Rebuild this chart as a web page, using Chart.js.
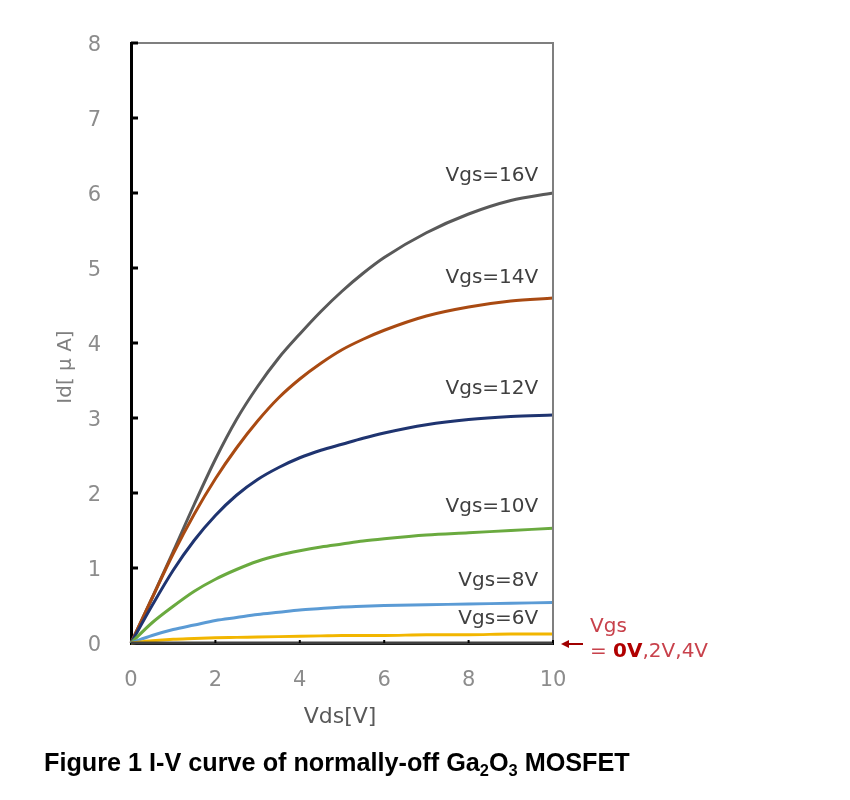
<!DOCTYPE html>
<html>
<head>
<meta charset="utf-8">
<script src="https://cdn.jsdelivr.net/npm/chart.js@4.4.0/dist/chart.umd.min.js"></script>
<style>
html, body { margin: 0; padding: 0; background: #fff; }
#wrap { width: 850px; height: 800px; }
</style>
</head>
<body>
<div id="wrap"><canvas id="canvas"></canvas></div>
<script>
// drain voltage points (V)
var vds = [0, 0.5, 1, 1.5, 2, 2.5, 3, 3.5, 4, 4.5, 5, 5.5, 6, 7, 8, 9, 10];
// drain current (uA)
var id16 = [0, 0.6, 1.22, 1.85, 2.45, 2.98, 3.42, 3.8, 4.12, 4.42, 4.69, 4.93, 5.14, 5.47, 5.72, 5.9, 6.0];
var id14 = [0, 0.6, 1.19, 1.72, 2.19, 2.6, 2.96, 3.27, 3.52, 3.73, 3.91, 4.05, 4.17, 4.36, 4.48, 4.56, 4.6];
var id12 = [0, 0.5, 0.97, 1.37, 1.7, 1.97, 2.18, 2.34, 2.47, 2.57, 2.65, 2.73, 2.8, 2.91, 2.98, 3.02, 3.04];
var id10 = [0, 0.27, 0.49, 0.69, 0.85, 0.98, 1.09, 1.17, 1.23, 1.28, 1.32, 1.36, 1.39, 1.44, 1.47, 1.5, 1.53];
var id8 = [0, 0.1, 0.18, 0.24, 0.3, 0.34, 0.38, 0.41, 0.44, 0.46, 0.48, 0.49, 0.5, 0.51, 0.52, 0.53, 0.54];
var id6 = [0, 0.03, 0.05, 0.06, 0.07, 0.075, 0.08, 0.085, 0.09, 0.095, 0.1, 0.1, 0.1, 0.11, 0.11, 0.12, 0.12];
var id0 = [0, 0, 0, 0, 0, 0, 0, 0, 0, 0, 0, 0, 0, 0, 0, 0, 0];

var seriesNames = ['Vgs=16V', 'Vgs=14V', 'Vgs=12V', 'Vgs=10V', 'Vgs=8V', 'Vgs=6V', 'Vgs=0V,2V,4V'];
var seriesValues = [id16, id14, id12, id10, id8, id6, id0];
var seriesColors = ['#595959', '#A94A12', '#1F3470', '#6AAA3F', '#5B9BD5', '#F2B600', '#404040'];

var xTicks = [0, 2, 4, 6, 8, 10];
var yTicks = [0, 1, 2, 3, 4, 5, 6, 7, 8];

// where each curve label sits (value coords, right aligned)
var labelAt = [[9.65, 6.23], [9.65, 4.87], [9.65, 3.39], [9.65, 1.81], [9.65, 0.83], [9.65, 0.32]];

function points(vals) {
	var out = [];
	for (var i = 0; i < vds.length; i++) {
		out.push({ x: vds[i], y: vals[i] });
	}
	return out;
}

var datasets = [];
for (var k = seriesValues.length - 1; k >= 0; k--) {
	datasets.push({
		label: seriesNames[k],
		data: points(seriesValues[k]),
		borderColor: seriesColors[k],
		borderWidth: 3,
		pointRadius: 0,
		cubicInterpolationMode: 'monotone',
		clip: false
	});
}

var FONT = "'DejaVu Sans', sans-serif";

var overlay = {
	id: 'overlay',
	afterDraw: function (chart) {
		var ctx = chart.ctx;
		var a = chart.chartArea;
		var xs = chart.scales.x;
		var ys = chart.scales.y;
		ctx.save();

		// thin frame on top and right
		ctx.strokeStyle = '#7f7f7f';
		ctx.lineWidth = 2;
		ctx.beginPath();
		ctx.moveTo(a.left, a.top);
		ctx.lineTo(a.right, a.top);
		ctx.lineTo(a.right, a.bottom);
		ctx.stroke();

		// inward tick marks
		ctx.strokeStyle = '#000';
		ctx.lineWidth = 3;
		yTicks.forEach(function (v) {
			if (v === 0) return;
			var py = ys.getPixelForValue(v);
			ctx.beginPath();
			ctx.moveTo(a.left, py);
			ctx.lineTo(a.left + 7, py);
			ctx.stroke();
		});
		ctx.lineWidth = 2;
		xTicks.forEach(function (v) {
			if (v === 0) return;
			var px = xs.getPixelForValue(v);
			ctx.beginPath();
			ctx.moveTo(px, a.bottom);
			ctx.lineTo(px, a.bottom - 3);
			ctx.stroke();
		});

		// curve labels
		ctx.font = '20px ' + FONT;
		ctx.fillStyle = '#404040';
		ctx.textAlign = 'right';
		ctx.textBaseline = 'middle';
		for (var i = 0; i < labelAt.length; i++) {
			ctx.fillText(seriesNames[i], xs.getPixelForValue(labelAt[i][0]), ys.getPixelForValue(labelAt[i][1]));
		}

		// axis titles
		ctx.textAlign = 'center';
		ctx.font = '22px ' + FONT;
		ctx.fillStyle = '#595959';
		ctx.fillText('Vds[V]', (a.left + a.right) / 2 - 2, 717);
		ctx.save();
		ctx.translate(66, 367);
		ctx.rotate(-Math.PI / 2);
		ctx.font = '20px ' + FONT;
		ctx.fillStyle = '#7f7f7f';
		ctx.fillText('Id[ μ A]', 0, 0);
		ctx.restore();

		// red note for the off-state curves
		var y0 = ys.getPixelForValue(0);
		ctx.strokeStyle = '#A00000';
		ctx.fillStyle = '#A00000';
		ctx.lineWidth = 2;
		ctx.beginPath();
		ctx.moveTo(a.right + 30, y0 + 1);
		ctx.lineTo(a.right + 14, y0 + 1);
		ctx.stroke();
		ctx.beginPath();
		ctx.moveTo(a.right + 8, y0 + 1);
		ctx.lineTo(a.right + 16, y0 - 3);
		ctx.lineTo(a.right + 16, y0 + 5);
		ctx.closePath();
		ctx.fill();

		ctx.textAlign = 'left';
		ctx.font = '20px ' + FONT;
		ctx.fillStyle = '#C8414B';
		ctx.fillText('Vgs', 590, 627);
		var x = 590;
		ctx.fillText('= ', x, 652);
		x += ctx.measureText('= ').width;
		ctx.font = 'bold 20px ' + FONT;
		ctx.fillStyle = '#B00000';
		ctx.fillText('0V', x, 652);
		x += ctx.measureText('0V').width;
		ctx.font = '20px ' + FONT;
		ctx.fillStyle = '#C8414B';
		ctx.fillText(',2V,4V', x, 652);

		// caption with subscripts, sized to span the same width as the original
		var parts = [['Figure 1 I-V curve of normally-off Ga', 0], ['2', 1], ['O', 0], ['3', 1], [' MOSFET', 0]];
		var fam = "px 'Liberation Sans', Arial, sans-serif";
		var w = 0;
		parts.forEach(function (p) {
			ctx.font = 'bold ' + (p[1] ? 13 : 20) + fam;
			w += ctx.measureText(p[0]).width;
		});
		var size = 20 * 586 / w;
		ctx.textBaseline = 'alphabetic';
		ctx.fillStyle = '#000';
		var cx = 44;
		parts.forEach(function (p) {
			var fs = p[1] ? size * 0.65 : size;
			ctx.font = 'bold ' + fs.toFixed(2) + fam;
			ctx.fillText(p[0], cx, p[1] ? 776 : 771);
			cx += ctx.measureText(p[0]).width;
		});

		ctx.restore();
	}
};

window.onload = function () {
	var ctx = document.getElementById('canvas').getContext('2d');
	window.myLine = new Chart(ctx, {
		type: 'line',
		data: { datasets: datasets },
		plugins: [overlay],
		options: {
			responsive: true,
			maintainAspectRatio: false,
			animation: false,
			layout: { padding: { left: 0, top: 43, right: 297, bottom: 0 } },
			plugins: {
				legend: { display: false },
				tooltip: { enabled: false }
			},
			scales: {
				x: {
					type: 'linear',
					min: 0,
					max: 10,
					afterBuildTicks: function (s) {
						s.ticks = xTicks.map(function (v) { return { value: v }; });
					},
					afterFit: function (s) { s.height = 157; },
					grid: { display: false, drawTicks: false },
					border: { display: true, color: '#000', width: 3 },
					ticks: { color: '#8c8c8c', padding: 25, font: { size: 21, family: FONT } }
				},
				y: {
					type: 'linear',
					min: 0,
					max: 8,
					afterBuildTicks: function (s) {
						s.ticks = yTicks.map(function (v) { return { value: v }; });
					},
					afterFit: function (s) { s.width = 131; },
					grid: { display: false, drawTicks: false },
					border: { display: true, color: '#000', width: 3 },
					ticks: { color: '#8c8c8c', padding: 30, labelOffset: 3, font: { size: 21, family: FONT } }
				}
			}
		}
	});
};
</script>
</body>
</html>
